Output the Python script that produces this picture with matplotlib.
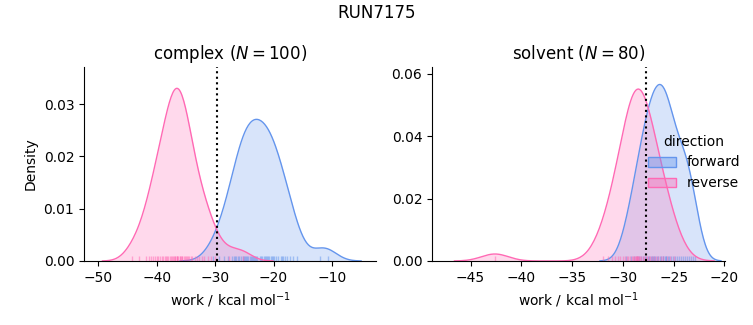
import numpy as np
import matplotlib
matplotlib.use("Agg")
import matplotlib.pyplot as plt
from matplotlib.patches import Patch

# work values (kcal/mol)
complex_forward = [-30.4, -29.3, -28.4, -27.8, -27.2,
                   -26.8, -26.6, -26.4, -26.1, -25.9, -25.6, -25.3, -25.05,
                   -24.9, -24.7, -24.5, -24.3, -24.1, -23.9, -23.7, -23.5, -23.3, -23.1,
                   -22.95, -22.8, -22.4, -22.1, -21.9, -21.7, -21.5, -21.3, -21.1,
                   -20.9, -20.7, -20.5, -20.3, -20.1, -19.9, -19.6, -19.3,
                   -18.8, -18.5, -18.4, -18.1, -17.7, -17.2, -16.6, -15.9, -12.0, -10.6]
complex_reverse = [-44.2, -43.0, -41.9, -41.3, -40.9, -40.6, -40.3, -40.0, -39.7,
                   -39.4, -39.15, -38.9, -38.6, -38.4, -38.2, -38.0, -37.8, -37.6,
                   -37.45, -37.3, -37.1, -36.95, -36.8, -36.6, -36.5, -36.45, -36.3,
                   -36.1, -36.0, -35.9, -35.75, -35.6, -35.4, -35.2, -35.0, -34.8, -34.6,
                   -34.4, -34.2, -34.0, -33.4, -33.1, -32.8, -32.3, -31.9, -31.3,
                   -30.7, -30.1, -27.6, -25.2]
solvent_forward = [-29.7, -29.2, -28.9, -28.6, -28.4, -28.2, -28.0, -27.85, -27.7, -27.55,
                   -27.4, -27.25, -27.1, -27.0, -26.95, -26.8, -26.65, -26.5, -26.35, -26.2,
                   -26.05, -26.0, -25.9, -25.8, -25.75, -25.6, -25.45, -25.3, -25.1, -24.9,
                   -24.7, -24.5, -24.3, -24.1, -23.9, -23.7, -23.5, -23.3, -23.1, -22.9]
solvent_reverse = [-42.6,
                   -32.0, -31.5, -31.1, -30.8, -30.5, -30.25, -30.0, -29.8, -29.6, -29.45,
                   -29.3, -29.15, -29.0, -28.9, -28.8, -28.75, -28.7, -28.65, -28.6, -28.55,
                   -28.5, -28.4, -28.3, -28.2, -28.05, -27.9, -27.75, -27.6, -27.45, -27.3,
                   -27.1, -26.9, -26.7, -26.5, -26.25, -26.0, -25.7, -25.4, -25.0]
complex_delta_f = -29.7
solvent_delta_f = -27.75

KT = 0.596  # kcal/mol per kT; densities were taken in kT units
colors = {"forward": "cornflowerblue", "reverse": "hotpink"}


def kde(values, n_total):
    x = np.asarray(values)
    bw = x.std(ddof=1) * len(x) ** (-1 / 5)
    grid = np.linspace(x.min() - 3 * bw, x.max() + 3 * bw, 200)
    dens = np.exp(-0.5 * ((grid[:, None] - x[None, :]) / bw) ** 2).sum(1)
    dens /= np.sqrt(2 * np.pi) * bw * n_total
    return grid, dens * KT


def plot_work_distribution(ax, forward, reverse, delta_f):
    n = len(forward) + len(reverse)
    for name, works in (("forward", forward), ("reverse", reverse)):
        c = colors[name]
        g, d = kde(works, n)
        ax.fill_between(g, d, color=c, alpha=0.25, lw=0)
        ax.plot(g, d, color=c, lw=1)
        ax.vlines(works, 0, 0.025, transform=ax.get_xaxis_transform(), color=c, lw=1, alpha=0.5)
    ax.axvline(delta_f, color="k", ls=":", lw=1.5)
    ax.set_xlabel(r"work / kcal mol$^{-1}$")
    ax.spines["top"].set_visible(False)
    ax.spines["right"].set_visible(False)


fig = plt.figure(figsize=(7.53, 3.25), dpi=100)
ax1 = fig.add_axes([0.1116, 0.197, 0.3878, 0.597])
ax2 = fig.add_axes([0.5737, 0.197, 0.389, 0.597])

plot_work_distribution(ax1, complex_forward, complex_reverse, complex_delta_f)
plot_work_distribution(ax2, solvent_forward, solvent_reverse, solvent_delta_f)

ax1.set_xlim(-52.45, -2.45)
ax1.set_ylim(0, 0.0371)
ax1.set_yticks([0, 0.01, 0.02, 0.03])
ax1.set_ylabel("Density")
ax1.set_title(f"complex ($N={len(complex_forward) + len(complex_reverse)}$)")

ax2.set_xlim(-48.8, -19.95)
ax2.set_ylim(0, 0.0622)
ax2.set_yticks([0, 0.02, 0.04, 0.06])
ax2.set_title(f"solvent ($N={len(solvent_forward) + len(solvent_reverse)}$)")

handles = [Patch(facecolor=matplotlib.colors.to_rgba(colors[k], 0.4), edgecolor=colors[k], label=k)
           for k in ("forward", "reverse")]
fig.legend(handles=handles, title="direction", loc="center right", frameon=False,
           bbox_to_anchor=(1.0, 0.5), fontsize=10, title_fontsize=10)

fig.suptitle("RUN7175", y=0.96, va="center")
fig.savefig("out.png", dpi=100)
